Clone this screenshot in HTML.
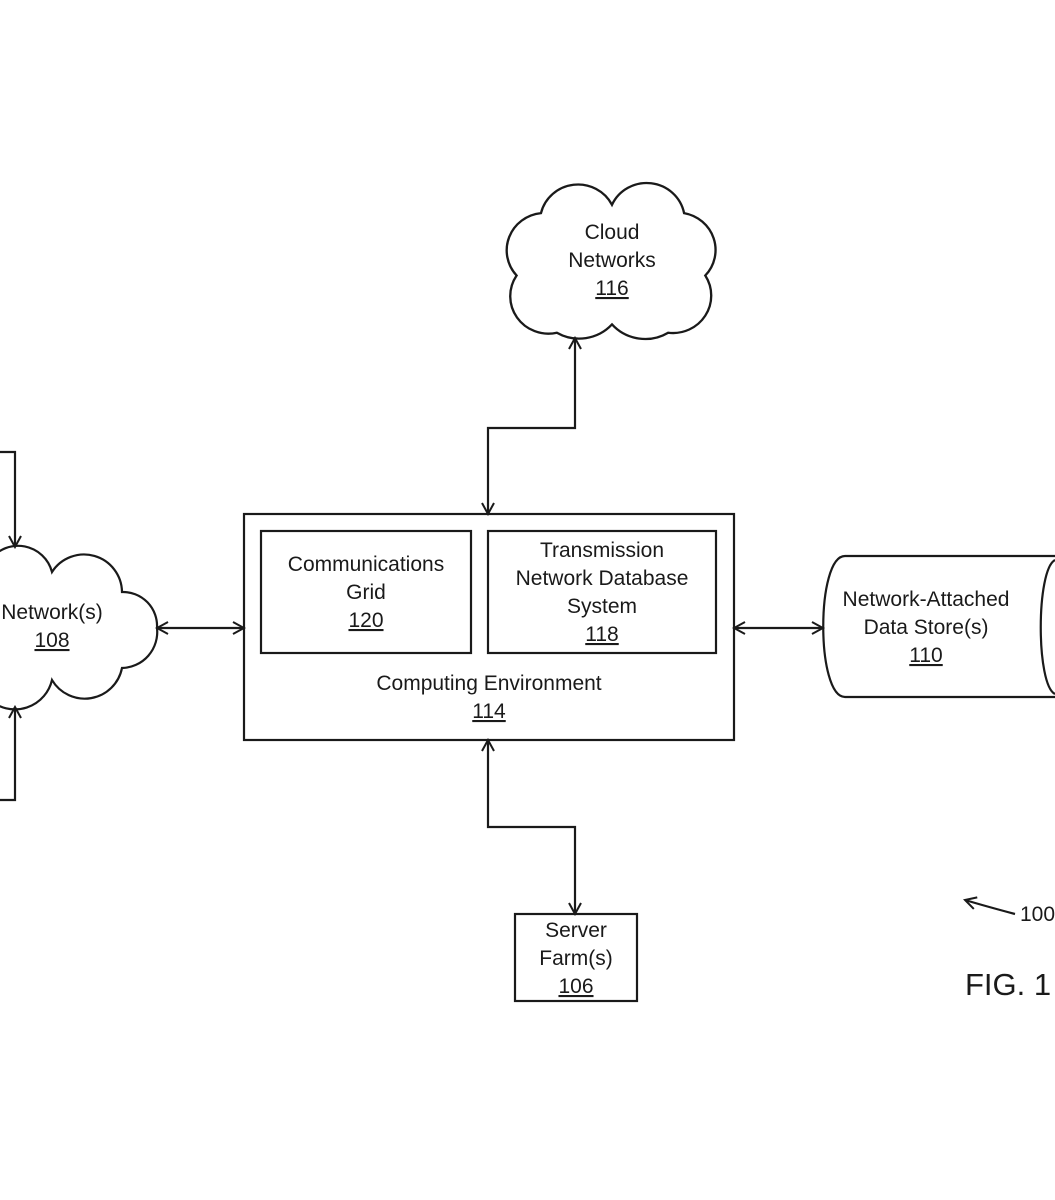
<!DOCTYPE html>
<html><head><style>
html,body{margin:0;padding:0;background:#fff;}
svg{display:block;}
text{font-family:"Liberation Sans",sans-serif;font-size:21px;fill:#1a1a1a;text-anchor:middle;}
</style></head><body>
<svg width="1055" height="1200" viewBox="0 0 1055 1200" xmlns="http://www.w3.org/2000/svg">
<defs>
<marker id="a" markerWidth="14" markerHeight="14" refX="12" refY="7" orient="auto-start-reverse" markerUnits="userSpaceOnUse">
<path d="M1,1 L12,7 L1,13" fill="none" stroke="#1a1a1a" stroke-width="2"/>
</marker>
</defs>
<g fill="none" stroke="#1a1a1a" stroke-width="2.2">
<!-- cloud 116 -->
<path transform="translate(612,262) scale(1.06,1.04) translate(-612,-262)" d="M545,215 A36,36 0 0 1 612,207 A36,36 0 0 1 680,215 A36,36 0 0 1 700,275 A36,36 0 0 1 665,330 A42,42 0 0 1 612,322 A42,42 0 0 1 560,330 A36,36 0 0 1 522,275 A36,36 0 0 1 545,215 Z"/>
<!-- cloud 108 -->
<path d="M-10,560 A35,35 0 0 1 52,572 A38,38 0 0 1 122,592 A34,34 0 0 1 157,628 A36,36 0 0 1 122,668 A38,38 0 0 1 52,680 A38,38 0 0 1 -10,700 Z"/>
<rect x="244" y="514" width="490" height="226"/>
<rect x="261" y="531" width="210" height="122"/>
<rect x="488" y="531" width="228" height="122"/>
<rect x="515" y="914" width="122" height="87"/>
<path d="M1055,556 L845,556 C816,556 816,697 845,697 L1055,697"/>
<path d="M1055,560 C1036,570 1036,685 1055,694"/>
<polyline points="0,452 15,452 15,547" marker-end="url(#a)"/>
<polyline points="0,800 15,800 15,707" marker-end="url(#a)"/>
<line x1="157" y1="628" x2="244" y2="628" marker-start="url(#a)" marker-end="url(#a)"/>
<line x1="734" y1="628" x2="823" y2="628" marker-start="url(#a)" marker-end="url(#a)"/>
<polyline points="488,514 488,428 575,428 575,338" marker-start="url(#a)" marker-end="url(#a)"/>
<polyline points="488,740 488,827 575,827 575,914" marker-start="url(#a)" marker-end="url(#a)"/>
<path d="M1015,914 Q985,906 965,900" marker-end="url(#a)"/>
</g>
<text x="612" y="239">Cloud</text>
<text x="612" y="267">Networks</text>
<text x="612" y="295" text-decoration="underline">116</text>
<text x="52" y="619">Network(s)</text>
<text x="52" y="647" text-decoration="underline">108</text>
<text x="366" y="571">Communications</text>
<text x="366" y="599">Grid</text>
<text x="366" y="627" text-decoration="underline">120</text>
<text x="602" y="557">Transmission</text>
<text x="602" y="585">Network Database</text>
<text x="602" y="613">System</text>
<text x="602" y="641" text-decoration="underline">118</text>
<text x="489" y="690">Computing Environment</text>
<text x="489" y="718" text-decoration="underline">114</text>
<text x="926" y="606">Network-Attached</text>
<text x="926" y="634">Data Store(s)</text>
<text x="926" y="662" text-decoration="underline">110</text>
<text x="576" y="937">Server</text>
<text x="576" y="965">Farm(s)</text>
<text x="576" y="993" text-decoration="underline">106</text>
<text x="1020" y="921" style="text-anchor:start">100</text>
<text x="965" y="995" style="text-anchor:start;font-size:31px">FIG. 1</text>
</svg>
</body></html>
